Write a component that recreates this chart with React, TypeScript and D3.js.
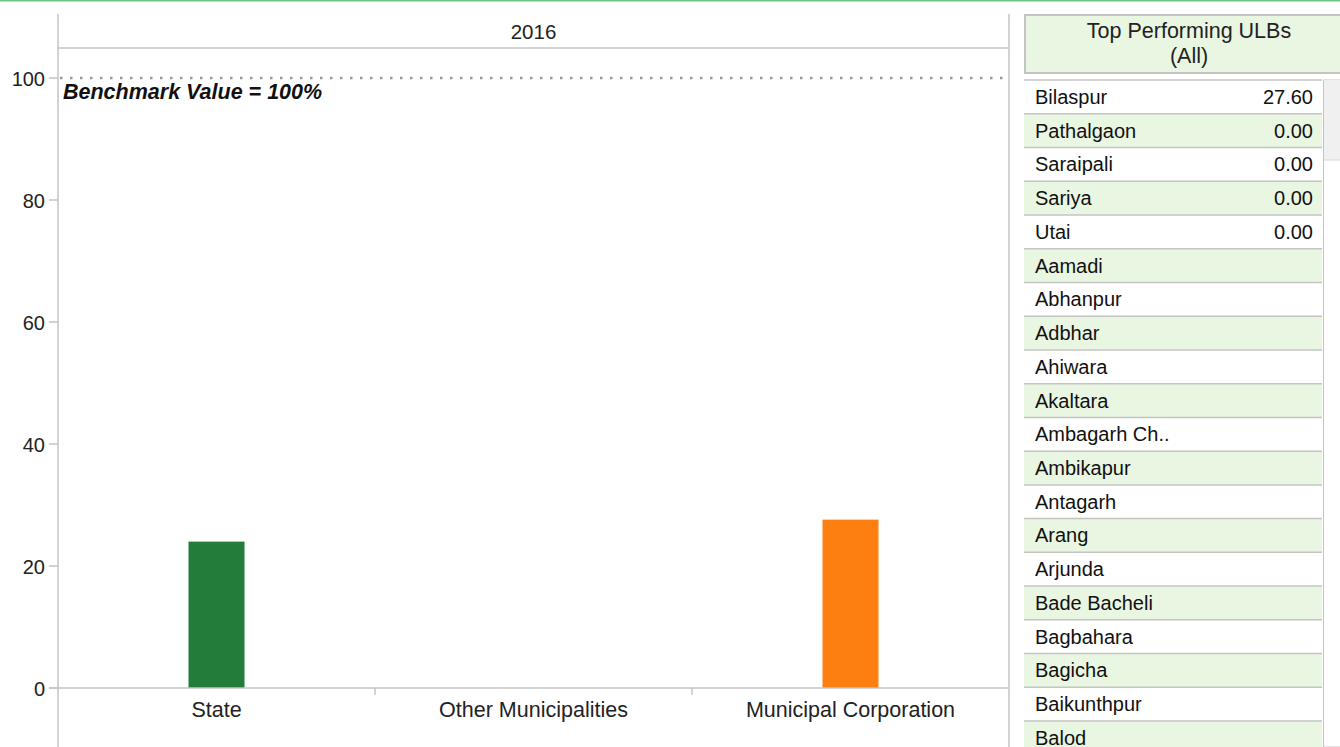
import React from "react";
import * as d3 from "d3";

const categories = ["State", "Other Municipalities", "Municipal Corporation"];
const values: (number | null)[] = [24.0, null, 27.6];
const barColors = ["#237c3a", "#fd7f10"];
const yTicks = [0, 20, 40, 60, 80, 100];
const panelTitle = "2016";
const benchmark = 100;
const benchmarkLabel = "Benchmark Value = 100%";

const tableTitle = ["Top Performing ULBs", "(All)"];
const ulbNames = [
  "Bilaspur", "Pathalgaon", "Saraipali", "Sariya", "Utai", "Aamadi", "Abhanpur",
  "Adbhar", "Ahiwara", "Akaltara", "Ambagarh Ch..", "Ambikapur", "Antagarh",
  "Arang", "Arjunda", "Bade Bacheli", "Bagbahara", "Bagicha", "Baikunthpur", "Balod",
];
const ulbValues: (string | null)[] = [
  "27.60", "0.00", "0.00", "0.00", "0.00", null, null, null, null, null, null,
  null, null, null, null, null, null, null, null, null,
];

const W = 1340;
const H = 747;
const FONT = "'Liberation Sans', Arial, sans-serif";

export default function App() {
  const left = 58;
  const right = 1009;
  const y = d3.scaleLinear().domain([0, 100]).range([688, 78]);
  const x = d3.scaleBand<string>().domain(categories).range([left, right]).padding(0);
  const barW = 56;
  const colorFor = (i: number) => (i === 0 ? barColors[0] : barColors[1]);

  const rowTop = 80;
  const rowH = 33.74;
  const rowX0 = 1024;
  const rowX1 = 1322;
  const grey = "#c4c4c4";

  return (
    <div style={{ position: "absolute", left: 0, top: 0 }}>
      <svg width={W} height={H} style={{ display: "block", fontFamily: FONT }}>
        <rect x={0} y={0} width={W} height={H} fill="#fff" />
        <line x1={0} x2={W} y1={0.5} y2={0.5} stroke="#6cc281" strokeWidth={2} />

        {/* panel frame */}
        <line x1={left} x2={left} y1={14} y2={H} stroke={grey} strokeWidth={1.5} />
        <line x1={right} x2={right} y1={14} y2={H} stroke={grey} strokeWidth={1.5} />
        <line x1={left} x2={right} y1={48} y2={48} stroke={grey} strokeWidth={1.5} />
        <text x={(left + right) / 2} y={38.5} textAnchor="middle" fontSize={20.5} fill="#222">
          {panelTitle}
        </text>

        {/* y axis ticks */}
        {yTicks.map((t) => (
          <g key={t}>
            <line x1={49} x2={left} y1={y(t)} y2={y(t)} stroke={grey} strokeWidth={1.5} />
            <text x={45} y={y(t) + 7.5} textAnchor="end" fontSize={20} fill="#222">
              {t}
            </text>
          </g>
        ))}

        {/* bars */}
        {categories.map((c, i) => {
          const v = values[i];
          if (v == null) return null;
          const cx = (x(c) as number) + x.bandwidth() / 2;
          return (
            <rect
              key={c}
              x={cx - barW / 2}
              y={y(v)}
              width={barW}
              height={y(0) - y(v)}
              fill={colorFor(i)}
            />
          );
        })}

        {/* benchmark */}
        <line
          x1={left + 2}
          x2={right}
          y1={y(benchmark)}
          y2={y(benchmark)}
          stroke="#999"
          strokeWidth={2.5}
          strokeDasharray="2.5,7.5"
        />
        <text x={63} y={y(benchmark) + 21} fontSize={21.5} fontWeight="bold" fontStyle="italic" fill="#111">
          {benchmarkLabel}
        </text>

        {/* x axis */}
        <line x1={49} x2={right} y1={y(0)} y2={y(0)} stroke={grey} strokeWidth={1.5} />
        {categories.slice(1).map((c) => (
          <line key={c} x1={x(c) as number} x2={x(c) as number} y1={y(0)} y2={y(0) + 7} stroke={grey} strokeWidth={1.5} />
        ))}
        {categories.map((c) => (
          <text
            key={c}
            x={(x(c) as number) + x.bandwidth() / 2}
            y={716.5}
            textAnchor="middle"
            fontSize={21.5}
            fill="#222"
          >
            {c}
          </text>
        ))}

        {/* table header */}
        <rect x={1025} y={15} width={330} height={58} fill="#e9f6e2" stroke={grey} strokeWidth={2} />
        <text x={1189} y={37.5} textAnchor="middle" fontSize={21.5} fill="#222">
          {tableTitle[0]}
        </text>
        <text x={1189} y={63} textAnchor="middle" fontSize={21.5} fill="#222">
          {tableTitle[1]}
        </text>

        {/* scrollbar */}
        <rect x={1323.5} y={rowTop} width={20} height={H - rowTop} fill="#fff" stroke={grey} strokeWidth={1} />
        <rect x={1324} y={rowTop} width={16} height={80} fill="#f0f0f0" />
        <line x1={1324} x2={1340} y1={rowTop + 80} y2={rowTop + 80} stroke="#d8d8d8" strokeWidth={1} />

        {/* table rows */}
        {ulbNames.map((n, i) => {
          const top = rowTop + i * rowH;
          return (
            <g key={n}>
              <rect x={rowX0} y={top} width={rowX1 - rowX0} height={rowH} fill={i % 2 === 1 ? "#e9f6e2" : "#fff"} />
              <line x1={rowX0} x2={rowX1} y1={top} y2={top} stroke={grey} strokeWidth={1.5} />
              <text x={1035} y={top + rowH / 2 + 7} fontSize={20} fill="#111">
                {n}
              </text>
              {ulbValues[i] != null && (
                <text x={1313} y={top + rowH / 2 + 7} textAnchor="end" fontSize={20} fill="#111">
                  {ulbValues[i]}
                </text>
              )}
            </g>
          );
        })}
      </svg>
    </div>
  );
}
